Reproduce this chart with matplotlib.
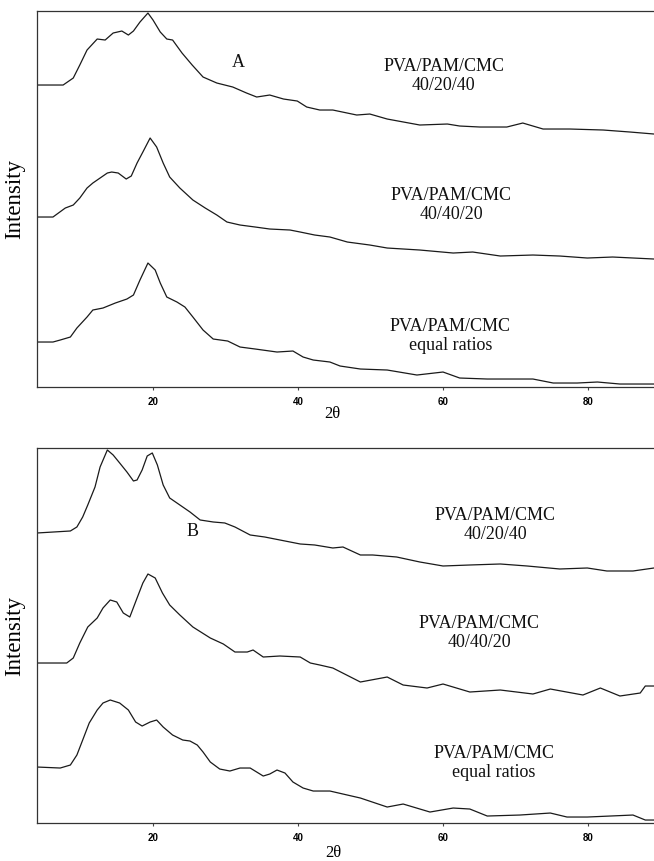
import matplotlib.pyplot as plt

# XRD patterns of the PVA/PAM/CMC blends, traces already stacked (a.u.)
# panel A
A_4020_x = [4.0, 7.6, 9.0, 9.9, 10.9, 12.3, 13.4, 14.5, 15.7, 16.6, 17.3, 18.2, 19.3, 20.0, 21.0, 21.9, 22.7,
            24.0, 25.4, 26.9, 28.8, 31.0, 32.9, 34.3, 36.1, 38.0, 39.9, 41.2, 43.0, 44.8, 48.1, 49.9, 52.3,
            56.8, 60.6, 62.3, 65.1, 68.8, 71.0, 73.8, 77.5, 82.1, 85.8, 89.1]
A_4020_y = [302, 302, 309, 322, 337, 348, 347, 354, 356, 352, 356, 365, 374, 367, 355, 348, 347,
            334, 322, 310, 304, 300, 294, 290, 292, 288, 286, 280, 277, 277, 272, 273, 268,
            262, 263, 261, 260, 260, 264, 258, 258, 257, 255, 253]

A_4040_x = [4.0, 6.2, 7.9, 9.0, 9.9, 10.9, 11.7, 12.7, 13.7, 14.3, 15.2, 16.3, 17.0, 17.8, 18.6, 19.6, 20.5,
            21.4, 22.3, 23.7, 25.5, 27.2, 28.8, 30.2, 32.0, 34.1, 36.1, 38.9, 40.3, 42.3, 44.4, 46.8, 49.9,
            52.3, 56.8, 61.4, 64.1, 67.9, 72.4, 76.1, 79.9, 83.4, 89.1]
A_4040_y = [170, 170, 179, 182, 189, 199, 204, 209, 214, 215, 214, 208, 211, 224, 235, 249, 240,
            224, 210, 199, 187, 179, 172, 165, 162, 160, 158, 157, 155, 152, 150, 145, 142,
            139, 137, 134, 135, 131, 132, 131, 129, 130, 128]

A_eq_x = [4.0, 6.2, 7.2, 8.6, 9.5, 10.9, 11.7, 13.1, 14.8, 16.4, 17.3, 18.2, 19.3, 20.3, 21.0, 21.9, 23.3,
          24.4, 25.5, 26.9, 28.3, 30.3, 32.0, 34.1, 37.1, 39.3, 40.7, 42.1, 44.4, 45.8, 48.6, 52.3, 56.4,
          60.0, 62.3, 66.1, 69.2, 72.4, 75.2, 78.5, 81.3, 84.4, 89.1]
A_eq_y = [45, 45, 47, 50, 59, 70, 77, 79, 84, 88, 92, 107, 124, 117, 104, 90, 85,
          80, 70, 57, 48, 46, 40, 38, 35, 36, 30, 27, 25, 21, 18, 17, 12,
          15, 9, 8, 8, 8, 4, 4, 5, 3, 3]

# panel B
B_4020_x = [4.0, 8.6, 9.5, 10.3, 11.0, 12.0, 12.7, 13.7, 14.5, 15.4, 16.4, 17.3, 17.8, 18.5, 19.2, 19.9, 20.6,
            21.4, 22.3, 23.7, 25.1, 26.5, 28.3, 29.9, 31.3, 33.4, 35.4, 37.5, 40.3, 42.3, 44.8, 46.2, 48.6,
            50.3, 53.6, 56.8, 60.0, 63.7, 67.9, 71.6, 76.1, 79.9, 82.6, 86.2, 89.1]
B_4020_y = [290, 292, 296, 306, 318, 336, 356, 373, 368, 360, 351, 342, 343, 353, 367, 370, 358,
            338, 325, 318, 311, 303, 301, 300, 296, 288, 286, 283, 279, 278, 275, 276, 268,
            268, 266, 261, 257, 258, 259, 257, 254, 255, 252, 252, 255]

B_4040_x = [4.0, 8.1, 9.0, 9.9, 11.0, 12.3, 13.1, 14.1, 15.0, 15.9, 16.8, 17.8, 18.6, 19.3, 20.3, 21.3, 22.3,
            23.7, 25.5, 27.9, 29.7, 31.3, 33.0, 33.8, 35.2, 37.5, 40.3, 41.7, 43.0, 44.8, 48.6, 52.3, 54.5,
            57.8, 60.0, 63.7, 67.9, 72.4, 74.8, 79.3, 81.7, 84.4, 87.2, 87.9, 89.1]
B_4040_y = [160, 160, 165, 180, 196, 205, 215, 223, 221, 210, 206, 225, 240, 249, 245, 230, 218,
            208, 196, 185, 179, 171, 171, 173, 166, 167, 166, 160, 158, 155, 141, 146, 138,
            135, 139, 131, 133, 129, 134, 128, 135, 127, 130, 137, 137]

B_eq_x = [4.0, 7.2, 8.6, 9.5, 10.3, 11.2, 12.3, 13.1, 14.1, 15.4, 16.6, 17.6, 18.5, 19.6, 20.5, 21.4, 22.7,
          24.1, 25.1, 26.1, 26.9, 27.9, 29.2, 30.6, 32.0, 33.4, 35.2, 36.1, 37.1, 38.2, 39.3, 40.7, 42.1,
          44.4, 48.6, 52.3, 54.5, 58.2, 61.4, 63.7, 66.1, 70.6, 74.8, 77.1, 79.9, 86.2, 87.9, 89.1]
B_eq_y = [56, 55, 58, 68, 83, 100, 113, 120, 123, 120, 113, 101, 97, 101, 103, 96, 88,
          83, 82, 78, 71, 61, 54, 52, 55, 55, 47, 49, 53, 50, 41, 35, 32,
          32, 25, 16, 19, 11, 15, 14, 7, 8, 10, 6, 6, 8, 3, 3]

SAMPLE_LABELS = ['PVA/PAM/CMC\n40/20/40', 'PVA/PAM/CMC\n40/40/20', 'PVA/PAM/CMC\nequal ratios']
TICKS = [20, 40, 60, 80]

serif = 'Liberation Serif'

fig = plt.figure(figsize=(6.54, 8.61), dpi=100)
ax_a = fig.add_axes([0.0566, 0.5505, 0.9434, 0.4367])
ax_b = fig.add_axes([0.0566, 0.0441, 0.9434, 0.4356])

# axes, traces, y range, sample label spots, panel letter, x-label spot
panels = [
    (ax_a, [(A_4020_x, A_4020_y), (A_4040_x, A_4040_y), (A_eq_x, A_eq_y)], 376,
     [(60.1, 311), (61.1, 182), (61.0, 51)], ('A', 31.7, 325), (0.478, -0.050)),
    (ax_b, [(B_4020_x, B_4020_y), (B_4040_x, B_4040_y), (B_eq_x, B_eq_y)], 375,
     [(67.2, 298), (65.0, 190), (67.0, 60)], ('B', 25.5, 291), (0.481, -0.058)),
]

for ax, traces, ytop, text_pos, tag, xlab_pos in panels:
    for x, y in traces:
        ax.plot(x, y, color='#1a1a1a', lw=0.9)
    for lbl, (tx, ty) in zip(SAMPLE_LABELS, text_pos):
        ax.text(tx, ty, lbl, ha='center', va='center', family=serif, fontsize=13,
                linespacing=1.1, color='#111111')
    ax.text(tag[1], tag[2], tag[0], ha='center', va='center', family=serif, fontsize=13,
            color='#111111')

    ax.set_xlim(4, 89.1)
    ax.set_ylim(0, ytop)
    ax.set_xticks(TICKS)
    ax.set_xticklabels([str(t) for t in TICKS], family='Liberation Sans', fontweight='bold',
                       fontsize=7)
    ax.set_yticks([])
    ax.tick_params(axis='x', length=2.5, width=0.8, pad=5, color='#444444')
    ax.spines['right'].set_visible(False)
    for s in ['left', 'top', 'bottom']:
        ax.spines[s].set_color('#333333')
        ax.spines[s].set_linewidth(0.9)

    ax.set_ylabel('Intensity', family=serif, fontsize=16.5)
    ax.yaxis.set_label_coords(-0.0194, 0.5)
    ax.set_xlabel('2θ', family=serif, fontsize=12)
    ax.xaxis.set_label_coords(*xlab_pos)

fig.savefig('out.png', dpi=100)
